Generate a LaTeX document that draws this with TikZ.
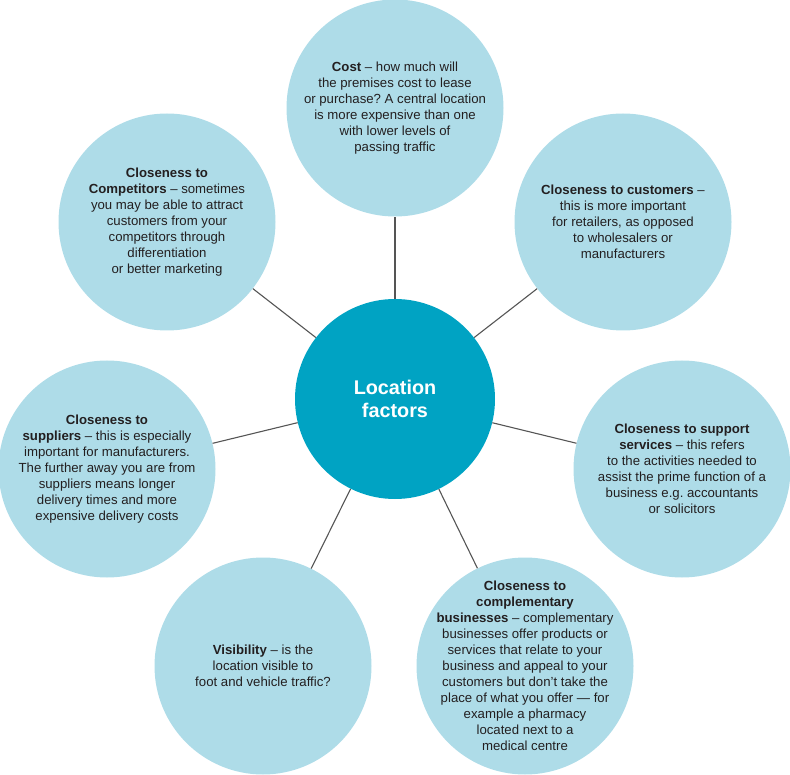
\documentclass[tikz,border=0pt]{standalone}
\usepackage{fontspec}
\setmainfont{Liberation Sans}
\definecolor{satfill}{HTML}{AEDCE8}
\definecolor{hubfill}{HTML}{00A3C3}
\definecolor{txtcol}{HTML}{231F20}
\definecolor{linecol}{HTML}{555555}
\begin{document}
\frenchspacing
\begin{tikzpicture}[x=1pt,y=-1pt,
  sat/.style={circle,fill=satfill,minimum size=217pt,inner sep=0pt},
  sattext/.style={inner sep=0pt,align=center,text=txtcol,
    font=\fontsize{13.2}{16}\selectfont},
  hub/.style={circle,fill=hubfill,minimum size=200pt,inner sep=0pt,align=center,
    text=white,font=\fontsize{19.8}{23}\selectfont\bfseries},
  conn/.style={draw=linecol,line width=1.1pt}]
\useasboundingbox (0,0) rectangle (790,775);
\node[hub] (hub) at (395,399) {Location\\factors};
\node[sat] (cost) at (395,108) {};
\node[sat] (comp) at (167,222) {};
\node[sat] (cust) at (623,222) {};
\node[sat] (supl) at (107,469) {};
\node[sat] (serv) at (682,469) {};
\node[sat] (visi) at (263,666) {};
\node[sat] (cmpl) at (525,666) {};
\node[sattext] (costt) at (cost) {\textbf{Cost} – how much will\\the premises cost to lease\\or purchase? A central location\\is more expensive than one\\with lower levels of\\passing traffic};
\node[sattext] (compt) at (comp) {\textbf{Closeness to}\\\textbf{Competitors} – sometimes\\you may be able to attract\\customers from your\\competitors through\\differentiation\\or better marketing};
\node[sattext] (custt) at (cust) {\textbf{Closeness to customers} –\\this is more important\\for retailers, as opposed\\to wholesalers or\\manufacturers};
\node[sattext] (suplt) at (supl) {\textbf{Closeness to}\\\textbf{suppliers} – this is especially\\important for manufacturers.\\The further away you are from\\suppliers means longer\\delivery times and more\\expensive delivery costs};
\node[sattext] (servt) at (serv) {\textbf{Closeness to support}\\\textbf{services} – this refers\\to the activities needed to\\assist the prime function of a\\business e.g. accountants\\or solicitors};
\node[sattext] (visit) at (visi) {\textbf{Visibility} – is the\\location visible to\\foot and vehicle traffic?};
\node[sattext] (cmplt) at (cmpl) {\textbf{Closeness to}\\\textbf{complementary}\\\textbf{businesses} – complementary\\businesses offer products or\\services that relate to your\\business and appeal to your\\customers but don't take the\\place of what you offer — for\\example a pharmacy\\located next to a\\medical centre};
\foreach \s in {cost,comp,cust,supl,serv,visi,cmpl}
  \draw[conn] (hub) -- (\s);
\end{tikzpicture}
\end{document}
